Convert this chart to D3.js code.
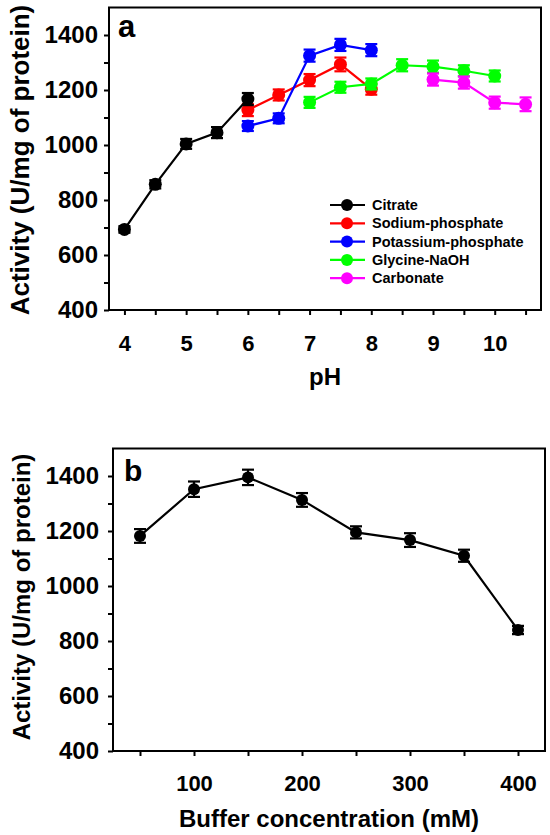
<!DOCTYPE html>
<html>
<head>
<meta charset="utf-8">
<script src="https://cdn.jsdelivr.net/npm/d3@7/dist/d3.min.js"></script>
<style>
  html, body { margin: 0; padding: 0; background: #fff; }
  svg { display: block; font-family: Arial, "Liberation Sans", sans-serif; font-weight: bold; }
</style>
</head>
<body>
<svg id="chart" width="550" height="835"></svg>
<script>
// ---------- Panel a data (pH profile) ----------
const seriesNames = ["Citrate", "Sodium-phosphate", "Potassium-phosphate", "Glycine-NaOH", "Carbonate"];
const seriesColors = ["#000000", "#ff0000", "#0000ff", "#00ff00", "#ff00ff"];

const citratePH = [4, 4.5, 5, 5.5, 6];
const citrateAct = [693, 857, 1004, 1045, 1167];
const citrateErr = [12, 15, 18, 20, 22];

const sodiumPH = [6, 6.5, 7, 7.5, 8];
const sodiumAct = [1127, 1182, 1236, 1293, 1203];
const sodiumErr = [22, 20, 22, 25, 20];

const potassiumPH = [6, 6.5, 7, 7.5, 8];
const potassiumAct = [1069, 1097, 1325, 1364, 1345];
const potassiumErr = [18, 18, 22, 22, 22];

const glycinePH = [7, 7.5, 8, 8.5, 9, 9.5, 10];
const glycineAct = [1155, 1210, 1222, 1290, 1285, 1270, 1251];
const glycineErr = [20, 20, 20, 22, 22, 20, 20];

const carbonatePH = [9, 9.5, 10, 10.5];
const carbonateAct = [1238, 1227, 1154, 1148];
const carbonateErr = [22, 22, 22, 25];

const phTicks = [4, 4.5, 5, 5.5, 6, 6.5, 7, 7.5, 8, 8.5, 9, 9.5, 10, 10.5];
const phTickLabels = [4, 5, 6, 7, 8, 9, 10];

// ---------- Panel b data (buffer concentration) ----------
const concMM = [50, 100, 150, 200, 250, 300, 350, 400];
const concAct = [1182, 1352, 1395, 1313, 1195, 1167, 1110, 840];
const concErr = [25, 28, 28, 25, 22, 25, 22, 15];
const concTicks = [50, 100, 150, 200, 250, 300, 350, 400];
const concTickLabels = [100, 200, 300, 400];

const yTicks = [400, 500, 600, 700, 800, 900, 1000, 1100, 1200, 1300, 1400];
const yTickLabels = [400, 600, 800, 1000, 1200, 1400];

// ---------- Drawing ----------
const svg = d3.select("#chart");
const FONT = "Arial, 'Liberation Sans', sans-serif";

function makeSeries(xs, ys, es) {
  return xs.map((x, i) => ({ x: x, y: ys[i], e: es[i] }));
}

function drawFrame(g, x, y, xTicks, xLabels, cfg) {
  const [x0, x1] = x.range();
  const [y0, y1] = y.range(); // y0 bottom
  g.append("rect")
    .attr("x", x0).attr("y", y1)
    .attr("width", x1 - x0).attr("height", y0 - y1)
    .attr("fill", "none").attr("stroke", "#000").attr("stroke-width", 2);

  const xAxis = d3.axisBottom(x)
    .tickValues(xTicks)
    .tickSize(5)
    .tickPadding(cfg.xPad)
    .tickFormat(d => xLabels.includes(d) ? d3.format("d")(d) : "");
  const gx = g.append("g").attr("transform", `translate(0,${y0})`).call(xAxis);
  gx.select(".domain").remove();
  gx.selectAll("line").attr("stroke-width", 2);
  gx.selectAll("text").attr("font-size", 22).attr("font-weight", "bold")
    .attr("font-family", FONT).attr("fill", "#000");

  const yAxis = d3.axisLeft(y)
    .tickValues(yTicks)
    .tickSize(5)
    .tickPadding(cfg.yPad)
    .tickFormat(d => yTickLabels.includes(d) ? d3.format("d")(d) : "");
  const gy = g.append("g").attr("transform", `translate(${x0},0)`).call(yAxis);
  gy.select(".domain").remove();
  gy.selectAll("line").attr("stroke-width", 2);
  gy.selectAll("text").attr("font-size", cfg.yFont).attr("font-weight", "bold")
    .attr("font-family", FONT).attr("fill", "#000");
}

function drawSeries(g, x, y, data, color, r) {
  const line = d3.line().x(d => x(d.x)).y(d => y(d.y));
  g.append("path").datum(data)
    .attr("d", line).attr("fill", "none")
    .attr("stroke", color).attr("stroke-width", 2.2);
  const cap = 6;
  const eb = g.append("g").attr("stroke", color).attr("stroke-width", 2.2);
  data.forEach(d => {
    eb.append("line").attr("x1", x(d.x)).attr("x2", x(d.x))
      .attr("y1", y(d.y - d.e)).attr("y2", y(d.y + d.e));
    eb.append("line").attr("x1", x(d.x) - cap).attr("x2", x(d.x) + cap)
      .attr("y1", y(d.y + d.e)).attr("y2", y(d.y + d.e));
    eb.append("line").attr("x1", x(d.x) - cap).attr("x2", x(d.x) + cap)
      .attr("y1", y(d.y - d.e)).attr("y2", y(d.y - d.e));
  });
  g.selectAll(null).data(data).enter().append("circle")
    .attr("cx", d => x(d.x)).attr("cy", d => y(d.y))
    .attr("r", r).attr("fill", color);
}

// ----- Panel a -----
const xa = d3.scaleLinear().domain([3.75, 10.75]).range([109, 541]);
const ya = d3.scaleLinear().domain([400, 1500]).range([310, 7.5]);
const ga = svg.append("g");
drawFrame(ga, xa, ya, phTicks, phTickLabels, { xPad: 20, yPad: 6, yFont: 24 });

const seriesA = [
  makeSeries(citratePH, citrateAct, citrateErr),
  makeSeries(sodiumPH, sodiumAct, sodiumErr),
  makeSeries(potassiumPH, potassiumAct, potassiumErr),
  makeSeries(glycinePH, glycineAct, glycineErr),
  makeSeries(carbonatePH, carbonateAct, carbonateErr)
];
const drawOrder = [1, 2, 3, 4, 0];
drawOrder.forEach(i => drawSeries(ga, xa, ya, seriesA[i], seriesColors[i], 6.5));

ga.append("text").attr("x", 118).attr("y", 37).attr("font-size", 31).text("a");

const lg = ga.append("g");
seriesNames.forEach((name, i) => {
  const yy = 205 + i * 18.3;
  lg.append("line").attr("x1", 330).attr("x2", 365).attr("y1", yy).attr("y2", yy)
    .attr("stroke", seriesColors[i]).attr("stroke-width", 2.2);
  lg.append("circle").attr("cx", 347).attr("cy", yy).attr("r", 6).attr("fill", seriesColors[i]);
  lg.append("text").attr("x", 372).attr("y", yy + 5).attr("font-size", 14.5).text(name);
});

ga.append("text").attr("x", 325).attr("y", 385).attr("text-anchor", "middle")
  .attr("font-size", 24).text("pH");
ga.append("text").attr("transform", "translate(29,160) rotate(-90)")
  .attr("text-anchor", "middle").attr("font-size", 26).text("Activity (U/mg of protein)");

// ----- Panel b -----
const xb = d3.scaleLinear().domain([25, 425]).range([113, 545]);
const yb = d3.scaleLinear().domain([400, 1500]).range([751, 448.5]);
const gb = svg.append("g");
drawFrame(gb, xb, yb, concTicks, concTickLabels, { xPad: 19, yPad: 9, yFont: 24 });
drawSeries(gb, xb, yb, makeSeries(concMM, concAct, concErr), "#000000", 6);

gb.append("text").attr("x", 124).attr("y", 481).attr("font-size", 30).text("b");
gb.append("text").attr("x", 329).attr("y", 827).attr("text-anchor", "middle")
  .attr("font-size", 24).text("Buffer concentration (mM)");
gb.append("text").attr("transform", "translate(30,597) rotate(-90)")
  .attr("text-anchor", "middle").attr("font-size", 24).text("Activity (U/mg of protein)");
</script>
</body>
</html>
